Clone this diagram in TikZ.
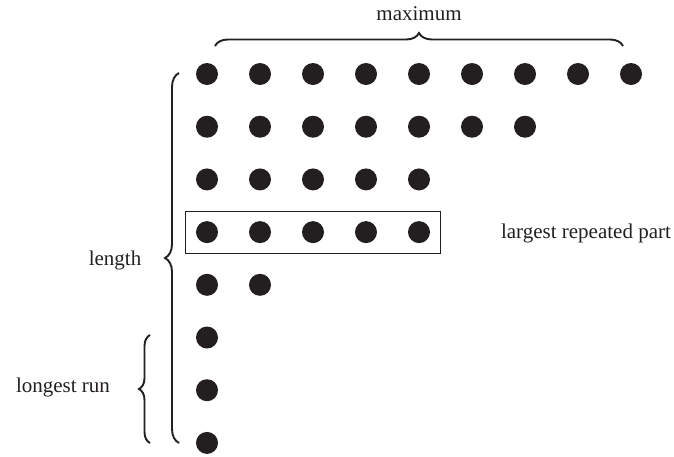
\documentclass[tikz,border=0pt]{standalone}
\usepackage{fontspec}
\setmainfont{Liberation Serif}
\usetikzlibrary{decorations.pathreplacing,fit}
\definecolor{ink}{HTML}{231F20}
\newcommand{\lbl}{\fontsize{21}{25}\selectfont}
\tikzset{dot/.style={circle,fill=ink,minimum size=22pt,inner sep=0},
  klammer/.style={ink,line width=1.9pt,decorate,decoration={brace,amplitude=#1}},
  klammer/.default=12pt,
  beschrift/.style={inner sep=0,text=ink,font=\lbl}}

\begin{document}
\begin{tikzpicture}[x=1pt,y=-1pt]
\useasboundingbox (0,0) rectangle (674,456);
% rows of the diagram
\foreach \n [count=\r] in {9,7,5,5,2,1,1,1}
  \foreach \c in {1,...,\n}
    \node[dot] (d\r-\c) at ({207+53*(\c-1)},{74+52.7*(\r-1)}) {};
\node[draw=ink,line width=0.8pt,inner sep=10pt,fit=(d4-1)(d4-5)] (teil) {};
% braces
\coordinate (max-l) at (215,46);
\coordinate (max-r) at (623,46);
\coordinate (len-o) at (179,73);
\coordinate (len-u) at (179,443);
\coordinate (run-o) at (150,335);
\coordinate (run-u) at (150,443);
\draw[klammer=13pt] (max-l) -- (max-r);
\draw[klammer=14pt] (len-u) -- (len-o);
\draw[klammer=11pt] (run-u) -- (run-o);
% labels
\node[beschrift] (maximum) at (419,14) {maximum};
\node[beschrift] (length) at (115,260) {length};
\node[beschrift] (run) at (63,387) {longest run};
\node[beschrift] (part) at (586,233) {largest repeated part};
\end{tikzpicture}
\end{document}
